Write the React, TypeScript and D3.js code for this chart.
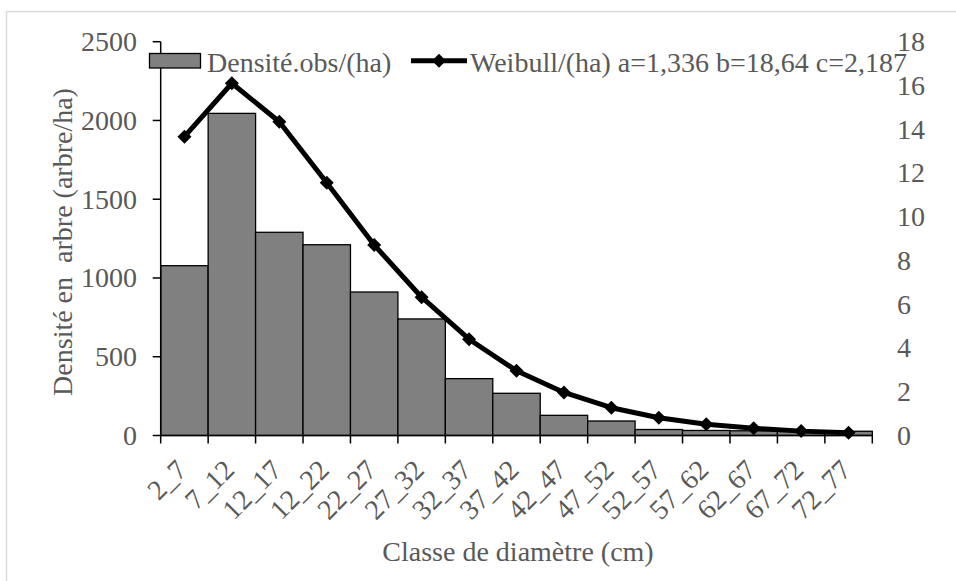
import * as d3 from "d3";

const WIDTH = 956;
const HEIGHT = 581;

const categories = [
  "2_7", "7_12", "12_17", "12_22", "22_27", "27_32", "32_37", "37_42",
  "42_47", "47_52", "52_57", "57_62", "62_67", "67_72", "72_77",
];
const densiteObs = [1078, 2045, 1290, 1211, 911, 740, 361, 268, 128, 92, 38, 32, 30, 28, 27];
const weibull = [13.66, 16.1, 14.34, 11.55, 8.71, 6.32, 4.4, 2.96, 1.97, 1.27, 0.81, 0.51, 0.33, 0.2, 0.13];
const leftTicks = [0, 500, 1000, 1500, 2000, 2500];
const rightTicks = [0, 2, 4, 6, 8, 10, 12, 14, 16, 18];

const barLabel = "Densité.obs/(ha)";
const lineLabel = "Weibull/(ha) a=1,336 b=18,64 c=2,187";
const yTitle = "Densité en  arbre (arbre/ha)";
const xTitle = "Classe de diamètre (cm)";

const PLOT = { left: 160.7, right: 872.3, top: 41.7, bottom: 435.5 };
const FONT = "'Liberation Serif', 'Times New Roman', serif";
const TEXT = "#595959";
const FS = 28;

function diamond(cx: number, cy: number, r: number) {
  return `M${cx},${cy - r}L${cx + r},${cy}L${cx},${cy + r}L${cx - r},${cy}Z`;
}

export default function App() {
  const x = d3.scaleBand().domain(categories).range([PLOT.left, PLOT.right]).padding(0);
  const yLeft = d3.scaleLinear().domain([0, 2500]).range([PLOT.bottom, PLOT.top]);
  const yRight = d3.scaleLinear().domain([0, 18]).range([PLOT.bottom, PLOT.top]);

  const pts = weibull.map((v, i) => [x(categories[i])! + x.bandwidth() / 2, yRight(v)] as [number, number]);
  const linePath = d3.line()(pts) ?? "";
  const boundaries = [...categories.map((c) => x(c)!), PLOT.right];

  return (
    <svg
      width={WIDTH}
      height={HEIGHT}
      style={{ position: "absolute", left: 0, top: 0, background: "#fff" }}
      fontFamily={FONT}
    >
      <rect x={6.5} y={11.5} width={1000} height={1000} fill="#fff" stroke="#d9d9d9" strokeWidth={1.5} />

      {densiteObs.map((v, i) => (
        <rect
          key={categories[i]}
          x={x(categories[i])}
          y={yLeft(v)}
          width={x.bandwidth()}
          height={yLeft(0) - yLeft(v)}
          fill="#808080"
          stroke="#000"
          strokeWidth={1.3}
        />
      ))}

      {/* left axis */}
      <line x1={PLOT.left} x2={PLOT.left} y1={PLOT.top} y2={PLOT.bottom} stroke="#000" strokeWidth={1.5} />
      {leftTicks.map((t) => (
        <g key={t}>
          <line x1={PLOT.left - 8} x2={PLOT.left} y1={yLeft(t)} y2={yLeft(t)} stroke="#000" strokeWidth={1.5} />
          <text x={137} y={yLeft(t) + 9.5} textAnchor="end" fontSize={FS} fill={TEXT}>
            {t}
          </text>
        </g>
      ))}

      {/* right axis labels */}
      {rightTicks.map((t) => (
        <text key={t} x={897} y={yRight(t) + 9.5} textAnchor="start" fontSize={FS} fill={TEXT}>
          {t}
        </text>
      ))}

      {/* x axis */}
      <line x1={PLOT.left} x2={PLOT.right} y1={PLOT.bottom} y2={PLOT.bottom} stroke="#000" strokeWidth={1.5} />
      {boundaries.map((b, i) => (
        <line key={i} x1={b} x2={b} y1={PLOT.bottom} y2={PLOT.bottom + 8} stroke="#000" strokeWidth={1.5} />
      ))}
      {categories.map((c) => {
        const cx = x(c)! + x.bandwidth() / 2 + 4;
        const cy = PLOT.bottom + 36;
        return (
          <text
            key={c}
            transform={`translate(${cx},${cy}) rotate(-45)`}
            textAnchor="end"
            fontSize={FS}
            fill={TEXT}
          >
            {c}
          </text>
        );
      })}

      {/* weibull line */}
      <path d={linePath} fill="none" stroke="#000" strokeWidth={5} strokeLinejoin="round" />
      {pts.map(([px, py], i) => (
        <path key={i} d={diamond(px, py, 7)} fill="#000" />
      ))}

      {/* titles */}
      <text
        transform={`translate(72,242) rotate(-90)`}
        textAnchor="middle"
        fontSize={FS}
        fill={TEXT}
        style={{ whiteSpace: "pre" }}
      >
        {yTitle}
      </text>
      <text x={518} y={561} textAnchor="middle" fontSize={FS} fill={TEXT}>
        {xTitle}
      </text>

      {/* legend */}
      <rect x={149.5} y={53.5} width={51} height={14.5} fill="#808080" stroke="#000" strokeWidth={1.3} />
      <text x={207} y={72} fontSize={FS} fill={TEXT}>
        {barLabel}
      </text>
      <line x1={411} x2={467} y1={60.7} y2={60.7} stroke="#000" strokeWidth={5} />
      <path d={diamond(439, 60.7, 7)} fill="#000" />
      <text x={470} y={72} fontSize={FS} fill={TEXT}>
        {lineLabel}
      </text>
    </svg>
  );
}
